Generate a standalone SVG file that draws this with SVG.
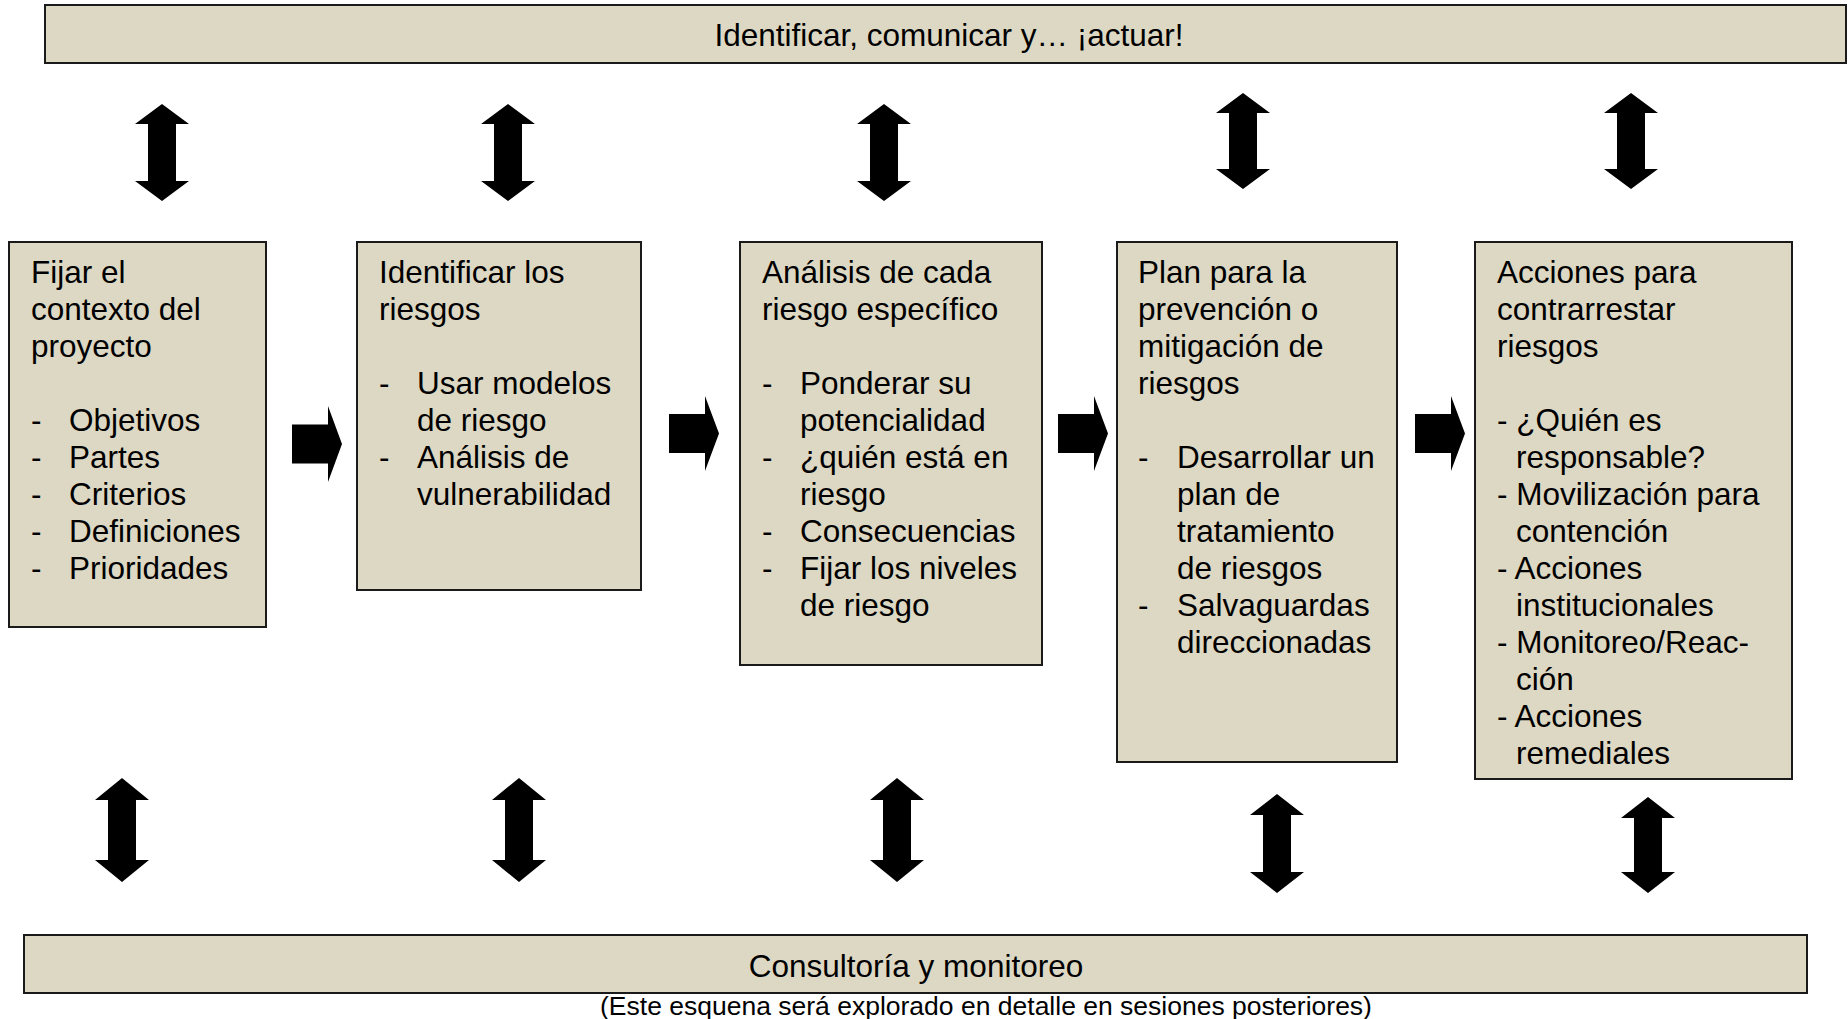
<svg xmlns="http://www.w3.org/2000/svg" width="1848" height="1019" viewBox="0 0 1848 1019">
<style>
.box{fill:#DDD8C3;stroke:#1a1a1a;stroke-width:2}
.t{font-family:"Liberation Sans",Arial,sans-serif;font-size:31.5px;fill:#000}
.c{text-anchor:middle}
.cap{font-family:"Liberation Sans",Arial,sans-serif;font-size:26.5px;fill:#000;text-anchor:middle}
.ar{fill:#000}
</style>
<rect width="1848" height="1019" fill="#fff"/>

<g id="top-bar">
<rect class="box" x="45" y="5" width="1801" height="58"/>
<text class="t c" x="949" y="46">Identificar, comunicar y… ¡actuar!</text>
</g>

<g id="box1">
<rect class="box" x="9" y="242" width="257" height="385"/>
<text class="t" x="31" y="283">Fijar el</text>
<text class="t" x="31" y="320">contexto del</text>
<text class="t" x="31" y="357">proyecto</text>
<text class="t" x="31" y="431">-</text><text class="t" x="69" y="431">Objetivos</text>
<text class="t" x="31" y="468">-</text><text class="t" x="69" y="468">Partes</text>
<text class="t" x="31" y="505">-</text><text class="t" x="69" y="505">Criterios</text>
<text class="t" x="31" y="542">-</text><text class="t" x="69" y="542">Definiciones</text>
<text class="t" x="31" y="579">-</text><text class="t" x="69" y="579">Prioridades</text>
</g>

<g id="box2">
<rect class="box" x="357" y="242" width="284" height="348"/>
<text class="t" x="379" y="283">Identificar los</text>
<text class="t" x="379" y="320">riesgos</text>
<text class="t" x="379" y="394">-</text><text class="t" x="417" y="394">Usar modelos</text>
<text class="t" x="417" y="431">de riesgo</text>
<text class="t" x="379" y="468">-</text><text class="t" x="417" y="468">Análisis de</text>
<text class="t" x="417" y="505">vulnerabilidad</text>
</g>

<g id="box3">
<rect class="box" x="740" y="242" width="302" height="423"/>
<text class="t" x="762" y="283">Análisis de cada</text>
<text class="t" x="762" y="320">riesgo específico</text>
<text class="t" x="762" y="394">-</text><text class="t" x="800" y="394">Ponderar su</text>
<text class="t" x="800" y="431">potencialidad</text>
<text class="t" x="762" y="468">-</text><text class="t" x="800" y="468">¿quién está en</text>
<text class="t" x="800" y="505">riesgo</text>
<text class="t" x="762" y="542">-</text><text class="t" x="800" y="542">Consecuencias</text>
<text class="t" x="762" y="579">-</text><text class="t" x="800" y="579">Fijar los niveles</text>
<text class="t" x="800" y="616">de riesgo</text>
</g>

<g id="box4">
<rect class="box" x="1117" y="242" width="280" height="520"/>
<text class="t" x="1138" y="283">Plan para la</text>
<text class="t" x="1138" y="320">prevención o</text>
<text class="t" x="1138" y="357">mitigación de</text>
<text class="t" x="1138" y="394">riesgos</text>
<text class="t" x="1138" y="468">-</text><text class="t" x="1177" y="468">Desarrollar un</text>
<text class="t" x="1177" y="505">plan de</text>
<text class="t" x="1177" y="542">tratamiento</text>
<text class="t" x="1177" y="579">de riesgos</text>
<text class="t" x="1138" y="616">-</text><text class="t" x="1177" y="616">Salvaguardas</text>
<text class="t" x="1177" y="653">direccionadas</text>
</g>

<g id="box5">
<rect class="box" x="1475" y="242" width="317" height="537"/>
<text class="t" x="1497" y="283">Acciones para</text>
<text class="t" x="1497" y="320">contrarrestar</text>
<text class="t" x="1497" y="357">riesgos</text>
<text class="t" x="1497" y="431">- ¿Quién es</text>
<text class="t" x="1516" y="468">responsable?</text>
<text class="t" x="1497" y="505">- Movilización para</text>
<text class="t" x="1516" y="542">contención</text>
<text class="t" x="1497" y="579">- Acciones</text>
<text class="t" x="1516" y="616">institucionales</text>
<text class="t" x="1497" y="653">- Monitoreo/Reac-</text>
<text class="t" x="1516" y="690">ción</text>
<text class="t" x="1497" y="727">- Acciones</text>
<text class="t" x="1516" y="764">remediales</text>
</g>

<g id="bottom-bar">
<rect class="box" x="24" y="935" width="1783" height="58"/>
<text class="t c" x="916" y="977">Consultoría y monitoreo</text>
</g>

<g id="caption">
<text class="cap" x="986" y="1015">(Este esquena será explorado en detalle en sesiones posteriores)</text>
</g>

<g id="connectors">
<path class="ar" d="M162,104 L189,124 H176 V181 H189 L162,201 L135,181 H148 V124 H135 Z"/>
<path class="ar" d="M508,104 L535,124 H522 V181 H535 L508,201 L481,181 H494 V124 H481 Z"/>
<path class="ar" d="M884,104 L911,124 H898 V181 H911 L884,201 L857,181 H870 V124 H857 Z"/>
<path class="ar" d="M1243,93 L1270,113 H1257 V169 H1270 L1243,189 L1216,169 H1229 V113 H1216 Z"/>
<path class="ar" d="M1631,93 L1658,113 H1645 V169 H1658 L1631,189 L1604,169 H1617 V113 H1604 Z"/>
<path class="ar" d="M122,778 L149,800 H136 V860 H149 L122,882 L95,860 H108 V800 H95 Z"/>
<path class="ar" d="M519,778 L546,800 H533 V860 H546 L519,882 L492,860 H505 V800 H492 Z"/>
<path class="ar" d="M897,778 L924,800 H911 V860 H924 L897,882 L870,860 H883 V800 H870 Z"/>
<path class="ar" d="M1277,794 L1304,815 H1291 V872 H1304 L1277,893 L1250,872 H1263 V815 H1250 Z"/>
<path class="ar" d="M1648,797 L1675,818 H1662 V872 H1675 L1648,893 L1621,872 H1634 V818 H1621 Z"/>
<path class="ar" d="M292,424.5 H328 V406 L342,444 L328,482 V463.5 H292 Z"/>
<path class="ar" d="M669,414 H705 V396 L719,433.5 L705,471 V453 H669 Z"/>
<path class="ar" d="M1058,414 H1094 V396 L1108,433.5 L1094,471 V453 H1058 Z"/>
<path class="ar" d="M1415,414 H1451 V396 L1465,433.5 L1451,471 V453 H1415 Z"/>
</g>
</svg>
